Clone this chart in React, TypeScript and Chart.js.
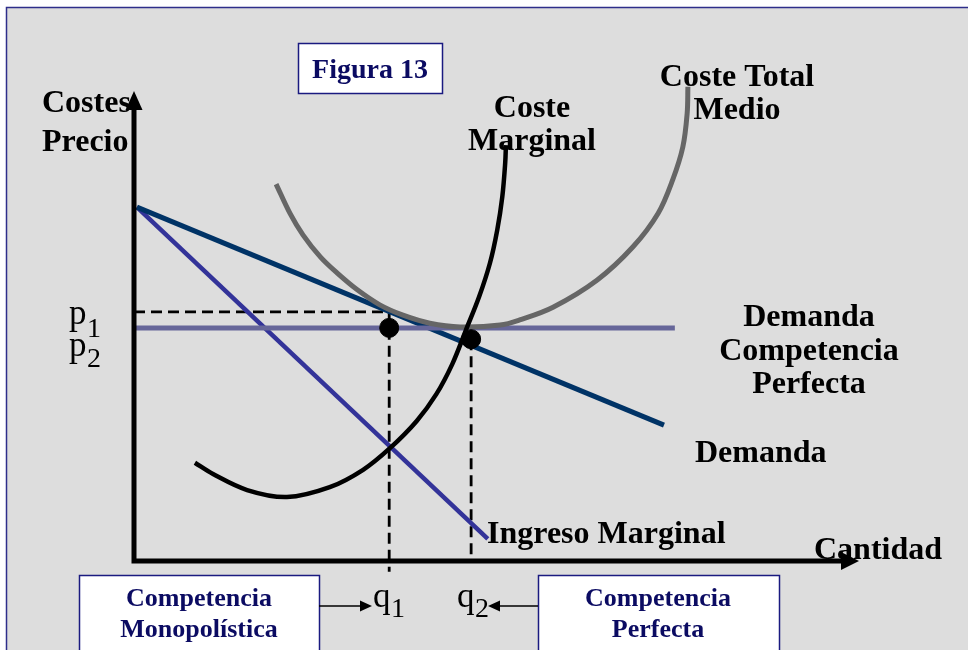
import React, { useEffect, useRef } from "react";
import { Chart, registerables } from "chart.js";

Chart.register(...registerables);

// ---- Data (x: quantity 0..100, y: cost/price 0..100) ----
const demandX = [0.4, 73.1];
const demandY = [75.3, 28.9];
const mrX = [0.4, 48.8];
const mrY = [75.3, 4.7];
const pcX = [0, 74.6];
const pcY = [49.6, 49.6];
const mcX = [8.4, 10.9, 15.6, 21.1, 27.0, 31.6, 35.3, 39.0, 41.7, 43.9, 45.8, 47.6, 49.1, 50.1, 50.8, 51.2, 51.3];
const mcY = [20.9, 18.5, 15.1, 13.6, 15.7, 19.4, 24.0, 29.8, 35.5, 41.9, 49.2, 56.2, 63.4, 70.4, 77.5, 84.7, 88.5];
const atcX = [19.6, 21.5, 23.3, 25.7, 28.0, 30.8, 33.9, 37.1, 40.8, 45.0, 50.5, 53.2, 57.8, 63.9, 68.8, 72.3, 74.3, 75.7, 76.3, 76.4];
const atcY = [80.2, 74.0, 69.4, 64.7, 61.3, 57.7, 54.5, 52.3, 50.6, 49.8, 50.2, 51.3, 54.0, 59.8, 66.8, 74.0, 81.1, 88.1, 95.3, 100.9];
const qValues = [35.2, 46.5]; // q1, q2
const pValues = [53.0, 49.6]; // p1, p2
const eqX = [35.2, 46.5];
const eqY = [49.6, 47.2];
const qBottom = [-2.3, 0];

const pts = (xs: number[], ys: number[]) => xs.map((x, i) => ({ x, y: ys[i] }));

const NAVY = "#0b0b62";
const FRAME = "#2e2e8a";
const SERIF = '"Liberation Serif", "DejaVu Serif", serif';

function text(ctx: CanvasRenderingContext2D, s: string, x: number, y: number, font: string, color: string, align: CanvasTextAlign = "left") {
  ctx.font = font;
  ctx.fillStyle = color;
  ctx.textAlign = align;
  ctx.textBaseline = "alphabetic";
  ctx.fillText(s, x, y);
}

const framePlugin = {
  id: "frame",
  beforeDraw(chart: any) {
    const ctx = chart.ctx as CanvasRenderingContext2D;
    ctx.save();
    ctx.fillStyle = "#ffffff";
    ctx.fillRect(0, 0, chart.width, chart.height);
    ctx.fillStyle = "#dddddd";
    ctx.fillRect(6, 7, chart.width - 6, chart.height - 7);
    ctx.strokeStyle = FRAME;
    ctx.lineWidth = 1.5;
    ctx.beginPath();
    ctx.moveTo(6.5, chart.height);
    ctx.lineTo(6.5, 7.5);
    ctx.lineTo(chart.width, 7.5);
    ctx.stroke();

    // boxes
    const box = (x: number, y: number, w: number, h: number) => {
      ctx.fillStyle = "#ffffff";
      ctx.fillRect(x, y, w, h);
      ctx.strokeStyle = "#1a1a80";
      ctx.lineWidth = 1.5;
      ctx.strokeRect(x, y, w, h);
    };
    box(298.5, 43.5, 144, 50);
    box(79.5, 575.5, 240, 90);
    box(538.5, 575.5, 241, 90);
    const bf = `bold 28px ${SERIF}`;
    text(ctx, "Figura 13", 370, 78, bf, NAVY, "center");
    const sf = `bold 26px ${SERIF}`;
    text(ctx, "Competencia", 199, 606, sf, NAVY, "center");
    text(ctx, "Monopolística", 199, 637, sf, NAVY, "center");
    text(ctx, "Competencia", 658, 606, sf, NAVY, "center");
    text(ctx, "Perfecta", 658, 637, sf, NAVY, "center");

    // labels
    const lf = `bold 32px ${SERIF}`;
    const k = "#000000";
    text(ctx, "Costes", 42, 112, lf, k);
    text(ctx, "Precio", 42, 151, lf, k);
    text(ctx, "Coste", 532, 117, lf, k, "center");
    text(ctx, "Marginal", 532, 150, lf, k, "center");
    text(ctx, "Coste Total", 737, 86, lf, k, "center");
    text(ctx, "Medio", 737, 119, lf, k, "center");
    text(ctx, "Demanda", 809, 326, lf, k, "center");
    text(ctx, "Competencia", 809, 360, lf, k, "center");
    text(ctx, "Perfecta", 809, 393, lf, k, "center");
    text(ctx, "Demanda", 695, 462, lf, k);
    text(ctx, "Ingreso Marginal", 487, 543, lf, k);
    text(ctx, "Cantidad", 814, 559, lf, k);

    // tick-like labels p1 p2 q1 q2
    const big = `35px ${SERIF}`;
    const sub = `28px ${SERIF}`;
    text(ctx, "p", 69, 324, big, k);
    text(ctx, "1", 87, 337, sub, k);
    text(ctx, "p", 69, 356, big, k);
    text(ctx, "2", 87, 367, sub, k);
    text(ctx, "q", 373, 607, big, k);
    text(ctx, "1", 391, 617, sub, k);
    text(ctx, "q", 457, 607, big, k);
    text(ctx, "2", 475, 617, sub, k);
    ctx.restore();
  },
  afterDatasetsDraw(chart: any) {
    const ctx = chart.ctx as CanvasRenderingContext2D;
    const xs = chart.scales.x;
    const ys = chart.scales.y;
    const x0 = xs.getPixelForValue(0);
    const y0 = ys.getPixelForValue(0);
    const yTop = ys.getPixelForValue(100);
    const xEnd = xs.getPixelForValue(100);
    ctx.save();
    ctx.fillStyle = "#000";
    ctx.strokeStyle = "#000";
    ctx.lineWidth = 5;
    ctx.lineCap = "butt";
    ctx.beginPath();
    ctx.moveTo(x0, y0 + 2.5);
    ctx.lineTo(x0, yTop + 16);
    ctx.moveTo(x0 - 2.5, y0);
    ctx.lineTo(xEnd - 16, y0);
    ctx.stroke();
    ctx.beginPath();
    ctx.moveTo(x0, yTop);
    ctx.lineTo(x0 - 8.5, yTop + 19);
    ctx.lineTo(x0 + 8.5, yTop + 19);
    ctx.closePath();
    ctx.fill();
    ctx.beginPath();
    ctx.moveTo(xEnd, y0);
    ctx.lineTo(xEnd - 18, y0 - 9);
    ctx.lineTo(xEnd - 18, y0 + 9);
    ctx.closePath();
    ctx.fill();

    // small pointer arrows to q1 and q2
    ctx.lineWidth = 1.5;
    ctx.beginPath();
    ctx.moveTo(319, 606);
    ctx.lineTo(362, 606);
    ctx.moveTo(538, 606);
    ctx.lineTo(499, 606);
    ctx.stroke();
    ctx.beginPath();
    ctx.moveTo(372, 606);
    ctx.lineTo(360, 600.5);
    ctx.lineTo(360, 611.5);
    ctx.closePath();
    ctx.fill();
    ctx.beginPath();
    ctx.moveTo(488, 606);
    ctx.lineTo(500, 600.5);
    ctx.lineTo(500, 611.5);
    ctx.closePath();
    ctx.fill();
    ctx.restore();
  },
};

export default function App() {
  const ref = useRef<HTMLCanvasElement | null>(null);
  useEffect(() => {
    if (!ref.current) return;
    const line = (data: any[], color: string, width: number, order: number, extra: any = {}) => ({
      type: "line",
      data,
      showLine: true,
      borderColor: color,
      backgroundColor: color,
      borderWidth: width,
      pointRadius: 0,
      fill: false,
      clip: false,
      order,
      ...extra,
    });
    const chart = new Chart(ref.current, {
      type: "scatter",
      data: {
        datasets: [
          {
            type: "scatter",
            data: pts(eqX, eqY),
            pointRadius: 9.5,
            pointBackgroundColor: "#000",
            pointBorderColor: "#000",
            showLine: false,
            clip: false,
            order: 0,
          } as any,
          line(pts(mcX, mcY), "#000000", 4.5, 1, { tension: 0.35 }),
          line(pts(atcX, atcY), "#666666", 5, 2, { tension: 0.35 }),
          line(pts(pcX, pcY), "#666699", 5, 3),
          line(pts(demandX, demandY), "#003366", 5, 4),
          line(pts(mrX, mrY), "#333399", 4.5, 5),
          line([{ x: 0, y: pValues[0] }, { x: qValues[0], y: pValues[0] }, { x: qValues[0], y: qBottom[0] }], "#000000", 2.8, 6, { borderDash: [11, 6] }),
          line([{ x: qValues[1], y: eqY[1] }, { x: qValues[1], y: qBottom[1] }], "#000000", 2.8, 7, { borderDash: [11, 6] }),
        ],
      },
      options: {
        responsive: false,
        devicePixelRatio: 1,
        animation: false,
        layout: { padding: { left: 134, right: 109, top: 91, bottom: 89 } },
        scales: {
          x: { type: "linear", min: 0, max: 100, display: false },
          y: { type: "linear", min: 0, max: 100, display: false },
        },
        plugins: { legend: { display: false }, tooltip: { enabled: false } },
        events: [],
      },
      plugins: [framePlugin],
    } as any);
    return () => chart.destroy();
  }, []);
  return (
    <div style={{ position: "fixed", left: 0, top: 0, width: 968, height: 650 }}>
      <canvas ref={ref} width={968} height={650} style={{ width: 968, height: 650, display: "block" }} />
    </div>
  );
}
